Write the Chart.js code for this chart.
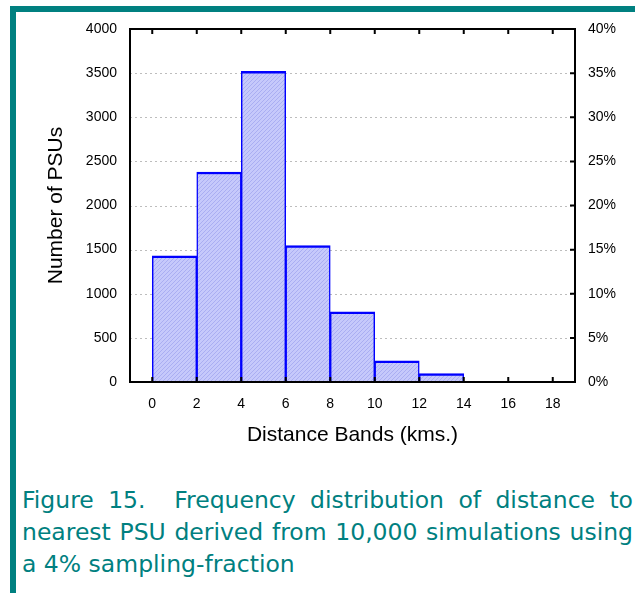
<!DOCTYPE html>
<html>
<head>
<meta charset="utf-8">
<script src="https://cdn.jsdelivr.net/npm/chart.js@4/dist/chart.umd.min.js"></script>
<style>
  html, body { margin: 0; padding: 0; background: #fff; }
  #page { position: relative; width: 635px; height: 593px; overflow: hidden; }
  .bar-top { position: absolute; left: 10px; top: 6px; width: 625px; height: 6px; background: #008080; }
  .bar-left { position: absolute; left: 10px; top: 6px; width: 6px; height: 587px; background: #008080; }
  #wrap { position: absolute; left: 0; top: 0; width: 635px; height: 460px; }
  .caption { position: absolute; left: 22px; top: 484px; width: 611px;
    font-family: "DejaVu Sans", sans-serif; font-size: 23.5px;
    line-height: 32px; color: #008080; }
  .caption div { white-space: nowrap; }
  .caption .j { text-align: justify; text-align-last: justify; }
</style>
</head>
<body>
<div id="page">
  <div class="bar-top"></div>
  <div class="bar-left"></div>
  <div id="wrap"><canvas id="chart"></canvas></div>
  <div class="caption">
    <div class="j">Figure 15.&nbsp; Frequency distribution of distance to</div>
    <div class="j">nearest PSU derived from 10,000 simulations using</div>
    <div>a 4% sampling-fraction</div>
  </div>
</div>
<script>
// distance bands (start of each 2 km band) and PSU counts
const bandStarts = [0, 2, 4, 6, 8, 10, 12];
const bandWidth = 2;
const counts = [1430, 2380, 3520, 1545, 795, 240, 95];
const xTicks = [0, 2, 4, 6, 8, 10, 12, 14, 16, 18];
const totalSims = 10000;

// hatched fill for the bars
function makeHatch() {
    const c = document.createElement('canvas');
    c.width = 4; c.height = 4;
    const g = c.getContext('2d');
    g.fillStyle = '#c6c9fb';
    g.fillRect(0, 0, 4, 4);
    g.strokeStyle = '#aaaef2';
    g.lineWidth = 1;
    g.beginPath();
    g.moveTo(0, 4); g.lineTo(4, 0);
    g.stroke();
    return g.createPattern(c, 'repeat');
}

// dotted grid, black frame and inward tick marks
const framePlugin = {
    id: 'frame',
    beforeDatasetsDraw(chart) {
        const { ctx, chartArea: a, scales } = chart;
        ctx.save();
        ctx.strokeStyle = '#bdbdbd';
        ctx.lineWidth = 1;
        ctx.setLineDash([2, 3]);
        scales.y.ticks.forEach(t => {
            if (t.value <= 0 || t.value >= 4000) return;
            const y = Math.round(scales.y.getPixelForValue(t.value)) + 0.5;
            ctx.beginPath();
            ctx.moveTo(a.left, y);
            ctx.lineTo(a.right, y);
            ctx.stroke();
        });
        ctx.restore();
    },
    afterDatasetsDraw(chart) {
        const { ctx, chartArea: a, scales } = chart;
        ctx.save();
        ctx.strokeStyle = '#000';
        ctx.lineWidth = 2;
        ctx.strokeRect(a.left, a.top, a.right - a.left, a.bottom - a.top);
        ctx.beginPath();
        xTicks.forEach(v => {
            const x = scales.x.getPixelForValue(v);
            ctx.moveTo(x, a.bottom); ctx.lineTo(x, a.bottom - 5);
            ctx.moveTo(x, a.top); ctx.lineTo(x, a.top + 5);
        });
        scales.y2.ticks.forEach(t => {
            const y = scales.y2.getPixelForValue(t.value);
            ctx.moveTo(a.right, y); ctx.lineTo(a.right - 5, y);
        });
        ctx.stroke();
        ctx.restore();
    }
};

const tickFont = { family: 'Liberation Sans, Arial, sans-serif', size: 14 };
const titleFont = { family: 'Liberation Sans, Arial, sans-serif', size: 21 };

new Chart(document.getElementById('chart'), {
    type: 'bar',
    data: {
        datasets: [{
            data: bandStarts.map((s, i) => ({ x: s + bandWidth / 2, y: counts[i] })),
            backgroundColor: makeHatch(),
            borderColor: '#0000ff',
            borderWidth: { top: 2.5, left: 1.5, right: 1.5, bottom: 0 },
            borderSkipped: false,
            barPercentage: 1,
            categoryPercentage: 1
        }]
    },
    options: {
        responsive: true,
        maintainAspectRatio: false,
        animation: false,
        layout: { padding: { top: 29, left: 0, right: 0, bottom: 0 } },
        plugins: { legend: { display: false }, tooltip: { enabled: false } },
        scales: {
            x: {
                type: 'linear',
                offset: false,
                min: -1,
                max: 19,
                afterBuildTicks: s => { s.ticks = xTicks.map(v => ({ value: v })); },
                afterFit: s => { s.height = 78; },
                grid: { display: false, drawTicks: false },
                border: { display: false },
                ticks: { color: '#000', font: tickFont, padding: 14, maxRotation: 0 },
                title: {
                    display: true, text: 'Distance Bands (kms.)', color: '#000',
                    font: titleFont, padding: { top: 0, bottom: 12 }
                }
            },
            y: {
                min: 0,
                max: 4000,
                afterFit: s => { s.width = 130; },
                grid: { display: false, drawTicks: false },
                border: { display: false },
                ticks: { stepSize: 500, color: '#000', font: tickFont, padding: 13, callback: v => String(v) },
                title: {
                    display: true, text: 'Number of PSUs', color: '#000',
                    font: titleFont, padding: { top: 44, bottom: 0 }
                }
            },
            y2: {
                position: 'right',
                min: 0,
                max: 4000 / totalSims * 100,
                afterFit: s => { s.width = 60; },
                grid: { display: false, drawTicks: false },
                border: { display: false },
                ticks: { stepSize: 5, color: '#000', font: tickFont, padding: 13, callback: v => v + '%' }
            }
        }
    },
    plugins: [framePlugin]
});
</script>
</body>
</html>
